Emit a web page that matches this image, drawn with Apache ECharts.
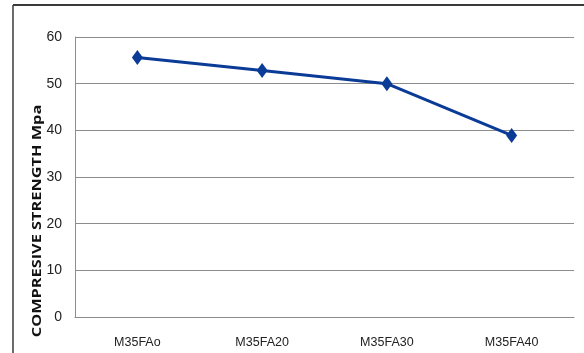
<!DOCTYPE html>
<html>
<head>
<meta charset="utf-8">
<script src="https://cdn.jsdelivr.net/npm/echarts@6/dist/echarts.min.js"></script>
<style>
  html, body { margin: 0; padding: 0; background: #fff; }
  #chart { width: 584px; height: 353px; }
</style>
</head>
<body>
<div id="chart"></div>
<script>
// Mix designs along the x axis
var categories = ['M35FAo', 'M35FA20', 'M35FA30', 'M35FA40'];
// Compressive strength (MPa) per mix
var strength = [55.6, 52.8, 50.0, 38.9];
// Value axis range and step
var yMin = 0, yMax = 60, yStep = 10;
var yTitle = 'COMPRESIVE STRENGTH Mpa';

var chart = echarts.init(document.getElementById('chart'), null, { renderer: 'canvas' });
chart.setOption({
  backgroundColor: '#ffffff',
  animation: false,
  graphic: [
    // frame around the chart area (top and left edges)
    { type: 'line', shape: { x1: 13, y1: 5, x2: 584, y2: 5 }, style: { stroke: '#3a3a3a', lineWidth: 2 } },
    { type: 'line', shape: { x1: 13, y1: 5, x2: 13, y2: 353 }, style: { stroke: '#3a3a3a', lineWidth: 1.5 } },
    // value axis title, set in a tall condensed style
    {
      type: 'text',
      x: 37.5, y: 221,
      rotation: Math.PI / 2,
      scaleX: 1.36,
      style: {
        text: yTitle,
        fill: '#111',
        font: 'bold 12px "Open Sans"',
        textAlign: 'center',
        textVerticalAlign: 'middle'
      }
    }
  ],
  grid: { left: 75, right: 10, top: 37, bottom: 36, containLabel: false },
  xAxis: {
    type: 'category',
    data: categories,
    boundaryGap: true,
    axisLine: { lineStyle: { color: '#8c8c8c', width: 1 } },
    axisTick: { show: false },
    axisLabel: { color: '#222', fontFamily: 'Liberation Sans', fontSize: 12.5, margin: 19 }
  },
  yAxis: {
    type: 'value',
    min: yMin, max: yMax, interval: yStep,
    axisLine: { show: true, lineStyle: { color: '#8c8c8c', width: 1 } },
    axisTick: { show: false },
    axisLabel: { color: '#222', fontFamily: 'Liberation Sans', fontSize: 14, margin: 13 },
    splitLine: { lineStyle: { color: '#8c8c8c', width: 1 } }
  },
  series: [{
    type: 'line',
    data: strength,
    symbol: 'diamond',
    symbolSize: [11, 15],
    lineStyle: { color: '#0a3b96', width: 3 },
    itemStyle: { color: '#0a3b96' }
  }]
});
</script>
</body>
</html>
